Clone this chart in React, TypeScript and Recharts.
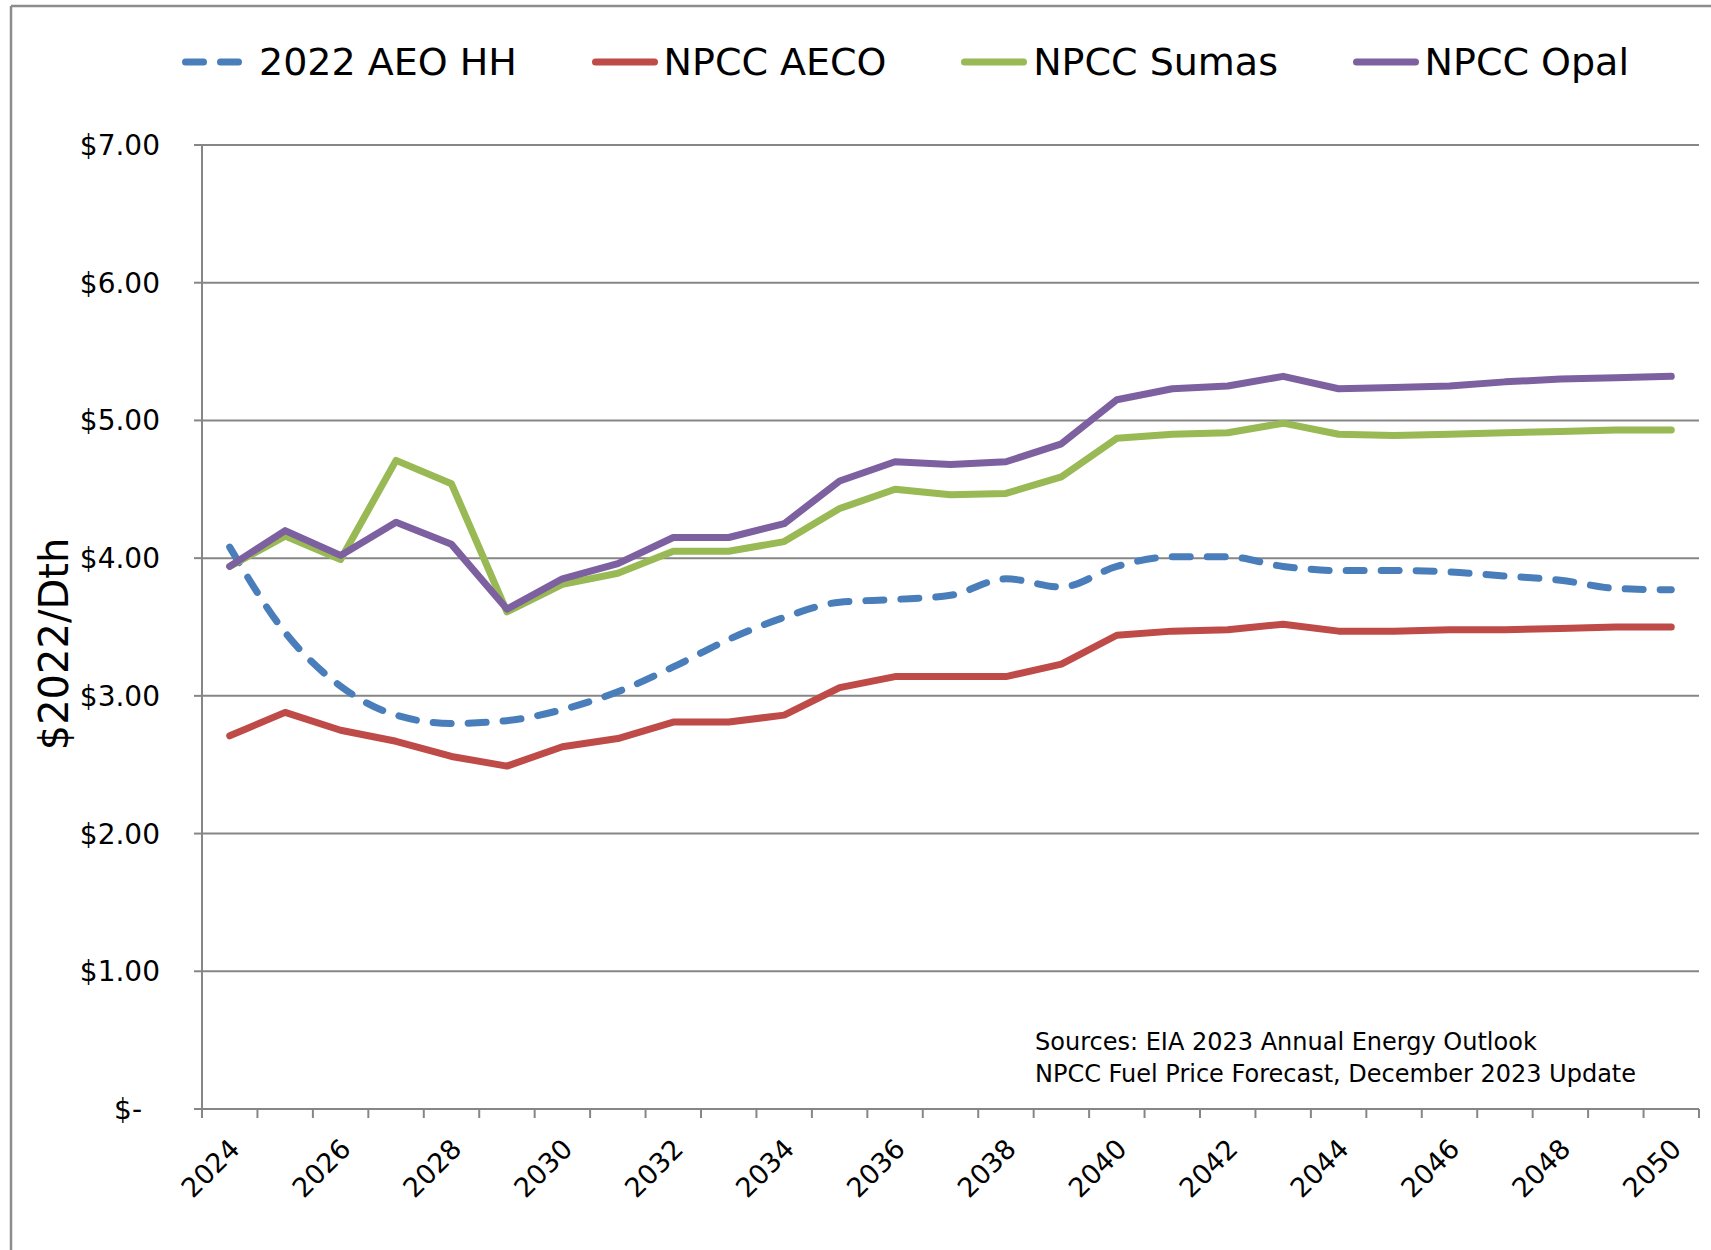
import { LineChart, Line, XAxis, YAxis, CartesianGrid } from "recharts";

const years = [
  "2024", "2025", "2026", "2027", "2028", "2029", "2030", "2031", "2032",
  "2033", "2034", "2035", "2036", "2037", "2038", "2039", "2040", "2041",
  "2042", "2043", "2044", "2045", "2046", "2047", "2048", "2049", "2050",
];

// $2022/Dth
const aeoHH = [
  4.08, 3.46, 3.07, 2.86, 2.8, 2.82, 2.9, 3.03, 3.21, 3.41, 3.57, 3.68, 3.7,
  3.73, 3.85, 3.79, 3.94, 4.01, 4.01, 3.94, 3.91, 3.91, 3.9, 3.87, 3.84, 3.78,
  3.77,
];
const npccAECO = [
  2.71, 2.88, 2.75, 2.67, 2.56, 2.49, 2.63, 2.69, 2.81, 2.81, 2.86, 3.06, 3.14,
  3.14, 3.14, 3.23, 3.44, 3.47, 3.48, 3.52, 3.47, 3.47, 3.48, 3.48, 3.49, 3.5,
  3.5,
];
const npccSumas = [
  3.94, 4.16, 3.99, 4.71, 4.54, 3.61, 3.81, 3.89, 4.05, 4.05, 4.12, 4.36, 4.5,
  4.46, 4.47, 4.59, 4.87, 4.9, 4.91, 4.98, 4.9, 4.89, 4.9, 4.91, 4.92, 4.93,
  4.93,
];
const npccOpal = [
  3.94, 4.2, 4.02, 4.26, 4.1, 3.63, 3.85, 3.96, 4.15, 4.15, 4.25, 4.56, 4.7,
  4.68, 4.7, 4.83, 5.15, 5.23, 5.25, 5.32, 5.23, 5.24, 5.25, 5.28, 5.3, 5.31,
  5.32,
];

const yTicks = [0, 1, 2, 3, 4, 5, 6, 7];
const sourceLines = [
  "Sources: EIA 2023 Annual Energy Outlook",
  "NPCC Fuel Price Forecast, December 2023 Update",
];

const series = [
  { key: "aeoHH", name: "2022 AEO HH", color: "#4a7ebb", dashed: true },
  { key: "aeco", name: "NPCC AECO", color: "#be4b48", dashed: false },
  { key: "sumas", name: "NPCC Sumas", color: "#98b954", dashed: false },
  { key: "opal", name: "NPCC Opal", color: "#7d60a0", dashed: false },
];

const data = years.map((year, i) => ({
  year,
  aeoHH: aeoHH[i],
  aeco: npccAECO[i],
  sumas: npccSumas[i],
  opal: npccOpal[i],
}));

const W = 1711;
const H = 1250;
const PLOT_LEFT = 202;
const PLOT_RIGHT = 1699;
const PLOT_BOTTOM = 1109;
const BAND = (PLOT_RIGHT - PLOT_LEFT) / years.length;
const GRID = "#868686";
const FONT = "'DejaVu Sans', sans-serif";
const DASH = "18 17";

const XTick = (props: any) => {
  const { x, y, payload, index } = props;
  const half = BAND / 2;
  const last = index === years.length - 1;
  const lx = x + 5;
  const ly = y + 35;
  return (
    <g>
      <line x1={x - half} x2={x - half} y1={y} y2={y + 9} stroke={GRID} strokeWidth={2} />
      {last && (
        <line x1={x + half} x2={x + half} y1={y} y2={y + 9} stroke={GRID} strokeWidth={2} />
      )}
      {index % 2 === 0 && (
        <text
          x={lx}
          y={ly}
          dy="0.35em"
          textAnchor="end"
          transform={`rotate(-45, ${lx}, ${ly})`}
          fontSize={27}
          fontFamily={FONT}
          fill="#000"
        >
          {payload.value}
        </text>
      )}
    </g>
  );
};

const YTick = (props: any) => {
  const { x, y, payload } = props;
  const v = payload.value;
  return (
    <text
      x={v === 0 ? x - 18 : x}
      y={y}
      dy="0.355em"
      textAnchor="end"
      fontSize={28}
      fontFamily={FONT}
      fill="#000"
    >
      {v === 0 ? "$-" : `$${v.toFixed(2)}`}
    </text>
  );
};

const LegendRow = () => (
  <div
    style={{
      position: "absolute",
      left: 182,
      top: 40,
      width: 1447,
      height: 44,
      display: "flex",
      justifyContent: "space-between",
      alignItems: "center",
      fontFamily: FONT,
      fontSize: 38,
      color: "#000",
      whiteSpace: "nowrap",
    }}
  >
    {series.map((s) => (
      <div key={s.key} style={{ display: "flex", alignItems: "center" }}>
        <svg width={s.dashed ? 62 : 66} height={14} style={{ marginRight: s.dashed ? 15 : 6 }}>
          <line
            x1={3.5}
            x2={s.dashed ? 58.5 : 62.5}
            y1={7}
            y2={7}
            stroke={s.color}
            strokeWidth={7}
            strokeLinecap="round"
            strokeDasharray={s.dashed ? DASH : undefined}
          />
        </svg>
        <span>{s.name}</span>
      </div>
    ))}
  </div>
);

export default function App() {
  return (
    <div
      style={{
        position: "absolute",
        left: 0,
        top: 0,
        width: W,
        height: H,
        overflow: "hidden",
        background: "#fff",
      }}
    >
      <LineChart
        width={W}
        height={H}
        data={data}
        margin={{ top: 145, right: W - PLOT_RIGHT, bottom: 0, left: 0 }}
      >
        <CartesianGrid vertical={false} stroke={GRID} strokeWidth={2} />
        <XAxis
          dataKey="year"
          interval={0}
          height={H - PLOT_BOTTOM}
          padding={{ left: BAND / 2, right: BAND / 2 }}
          tickLine={false}
          tickSize={0}
          tickMargin={0}
          axisLine={{ stroke: GRID, strokeWidth: 2 }}
          tick={(p: any) => <XTick {...p} />}
        />
        <YAxis
          width={PLOT_LEFT}
          domain={[0, 7]}
          ticks={yTicks}
          interval={0}
          tickSize={8}
          tickMargin={34}
          tickLine={{ stroke: GRID, strokeWidth: 2 }}
          axisLine={{ stroke: GRID, strokeWidth: 2 }}
          tick={(p: any) => <YTick {...p} />}
        />
        {series.map((s) => (
          <Line
            key={s.key}
            dataKey={s.key}
            name={s.name}
            type={s.dashed ? "monotone" : "linear"}
            stroke={s.color}
            strokeWidth={7}
            strokeDasharray={s.dashed ? DASH : undefined}
            strokeLinecap="round"
            strokeLinejoin="round"
            dot={false}
            activeDot={false}
            isAnimationActive={false}
          />
        ))}
      </LineChart>
      <LegendRow />
      <svg
        width={W}
        height={H}
        style={{ position: "absolute", left: 0, top: 0, pointerEvents: "none" }}
      >
        <line x1={11} y1={6} x2={W} y2={6} stroke="#8c8c8c" strokeWidth={2.5} />
        <line x1={11} y1={6} x2={11} y2={H} stroke="#8c8c8c" strokeWidth={2.5} />
        <text
          x={54}
          y={644}
          dy="0.35em"
          textAnchor="middle"
          transform="rotate(-90, 54, 644)"
          fontSize={40}
          fontFamily={FONT}
          fill="#000"
        >
          $2022/Dth
        </text>
        {sourceLines.map((t, i) => (
          <text
            key={t}
            x={1035}
            y={1042 + i * 32}
            dy="0.35em"
            fontSize={24}
            fontFamily={FONT}
            fill="#000"
          >
            {t}
          </text>
        ))}
      </svg>
    </div>
  );
}
